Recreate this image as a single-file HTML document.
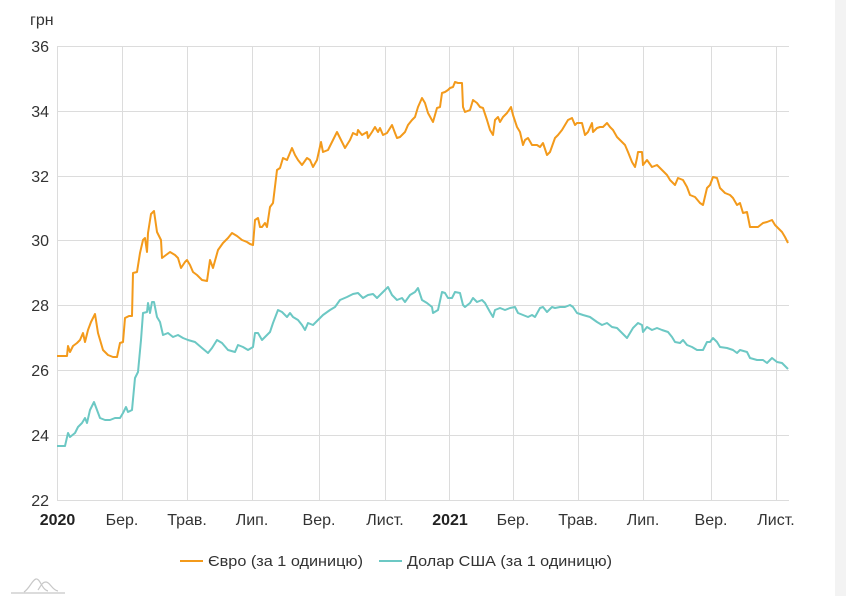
<!DOCTYPE html>
<html><head><meta charset="utf-8"><style>
html,body{margin:0;padding:0;background:#fff;}
body{width:846px;height:596px;overflow:hidden;position:relative;font-family:"Liberation Sans",sans-serif;}
svg{position:absolute;left:0;top:0;}
</style></head><body>
<svg width="846" height="596" viewBox="0 0 846 596" xmlns="http://www.w3.org/2000/svg">
<rect x="835" y="0" width="11" height="596" fill="#f3f3f3"/>
<g stroke="#dcdcdc" stroke-width="1" fill="none">
<line x1="57" y1="46.5" x2="789" y2="46.5"/>
<line x1="57" y1="111.5" x2="789" y2="111.5"/>
<line x1="57" y1="176.5" x2="789" y2="176.5"/>
<line x1="57" y1="240.5" x2="789" y2="240.5"/>
<line x1="57" y1="305.5" x2="789" y2="305.5"/>
<line x1="57" y1="370.5" x2="789" y2="370.5"/>
<line x1="57" y1="435.5" x2="789" y2="435.5"/>
<line x1="57" y1="500.5" x2="789" y2="500.5"/>
<line x1="57.5" y1="46" x2="57.5" y2="500"/>
<line x1="122.5" y1="46" x2="122.5" y2="500"/>
<line x1="187.5" y1="46" x2="187.5" y2="500"/>
<line x1="252.5" y1="46" x2="252.5" y2="500"/>
<line x1="319.5" y1="46" x2="319.5" y2="500"/>
<line x1="385.5" y1="46" x2="385.5" y2="500"/>
<line x1="449.5" y1="46" x2="449.5" y2="500"/>
<line x1="513.5" y1="46" x2="513.5" y2="500"/>
<line x1="578.5" y1="46" x2="578.5" y2="500"/>
<line x1="643.5" y1="46" x2="643.5" y2="500"/>
<line x1="711.5" y1="46" x2="711.5" y2="500"/>
<line x1="776.5" y1="46" x2="776.5" y2="500"/>
</g>
<g font-size="16" fill="#333" text-anchor="end">
<text x="49" y="52">36</text>
<text x="49" y="117">34</text>
<text x="49" y="182">32</text>
<text x="49" y="246">30</text>
<text x="49" y="311">28</text>
<text x="49" y="376">26</text>
<text x="49" y="441">24</text>
<text x="49" y="506">22</text>
</g>
<text x="30" y="25" font-size="16" fill="#333">грн</text>
<g font-size="16" fill="#333" text-anchor="middle">
<text x="57.5" y="525" font-weight="bold" fill="#222">2020</text>
<text x="122" y="525">Бер.</text>
<text x="187" y="525">Трав.</text>
<text x="252" y="525">Лип.</text>
<text x="319" y="525">Вер.</text>
<text x="385" y="525">Лист.</text>
<text x="450" y="525" font-weight="bold" fill="#222">2021</text>
<text x="513" y="525">Бер.</text>
<text x="578" y="525">Трав.</text>
<text x="643" y="525">Лип.</text>
<text x="711" y="525">Вер.</text>
<text x="776" y="525">Лист.</text>
</g>
<polyline fill="none" stroke="#6cc8c4" stroke-width="2" stroke-linejoin="round" points="57,446 65,446 68,433 70,437 75,433 78,427 82,423 85,418 87,423 90,410 94,402 97,410 100,418 105,420 110,420 115,418 120,418 123,413 126,407 128,412 132,410 135,378 138,372 141,340 143,313 147,312 148,303 150,313 152,302 154,302 157,317 160,322 163,335 168,333 173,337 178,335 183,338 188,340 195,342 202,348 208,353 212,348 217,340 222,343 228,350 235,352 238,345 243,347 248,350 253,347 255,333 258,333 262,340 265,337 270,332 273,323 278,310 282,312 287,317 290,313 293,317 298,320 302,325 305,330 308,323 313,325 318,320 323,315 330,310 335,307 340,300 347,297 353,294 358,293 363,298 368,295 373,294 377,298 382,293 387,288 388,287 392,295 397,300 402,298 405,302 410,295 415,292 418,288 422,300 427,303 432,307 433,313 438,310 442,292 445,293 448,298 452,298 455,292 460,293 463,305 465,307 470,303 473,298 477,302 482,300 485,303 490,312 493,317 495,310 500,308 505,310 510,308 515,307 518,313 523,315 528,317 532,315 535,317 540,308 543,307 547,312 552,307 555,308 560,307 565,307 570,305 573,307 577,313 583,315 590,317 597,322 602,325 607,323 612,327 617,328 622,333 627,338 630,333 633,328 638,323 642,325 643,332 647,327 652,330 657,328 662,330 668,332 672,337 675,342 680,343 683,340 687,345 692,347 697,350 703,350 707,342 710,342 713,338 717,342 720,347 727,348 733,350 737,353 740,350 747,352 750,358 757,360 763,360 767,363 772,358 777,362 782,363 787,368 788,369"/>
<polyline fill="none" stroke="#f39a1b" stroke-width="2" stroke-linejoin="round" points="57,356 67,356 68,346 70,352 73,346 77,343 80,340 83,333 85,342 88,330 91,322 95,314 98,333 103,350 108,355 113,357 117,357 120,343 123,342 125,318 129,316 132,316 133,273 137,272 140,253 143,240 145,238 147,252 148,233 151,214 154,211 156,225 157,232 161,240 162,258 166,255 170,252 175,255 178,258 181,268 185,262 187,260 190,265 193,272 197,275 202,280 207,281 210,260 213,268 218,250 223,243 228,238 232,233 237,236 242,240 247,242 250,244 253,245 255,220 258,218 260,227 262,227 265,223 267,227 270,207 273,203 277,170 280,168 283,158 287,160 292,148 295,155 298,160 302,165 307,158 310,160 313,167 317,160 321,142 323,152 328,150 333,140 337,132 340,138 345,148 350,140 353,133 357,135 358,130 362,135 367,132 368,138 372,132 375,127 378,132 380,128 383,135 387,133 392,125 395,133 397,138 400,137 405,132 408,125 412,120 415,117 418,107 422,98 425,103 428,113 433,122 437,108 440,107 442,93 445,92 448,90 450,88 453,87 455,82 458,83 462,83 463,107 465,112 470,110 473,100 477,103 480,107 483,108 487,120 490,130 493,135 495,120 498,117 500,122 503,117 507,113 511,107 513,115 517,127 520,132 523,145 525,140 528,138 532,145 537,145 540,147 543,143 547,155 550,152 555,138 558,135 562,130 565,125 568,120 572,118 575,125 577,123 582,123 585,135 588,132 592,123 593,132 597,128 600,127 603,127 607,123 610,127 613,130 617,137 620,140 625,145 628,152 632,162 635,167 637,158 638,152 642,152 643,165 647,160 652,167 657,165 662,170 667,175 670,180 675,185 678,178 683,180 687,187 690,195 695,197 700,203 703,205 707,188 710,185 713,177 717,178 720,188 725,193 730,195 733,198 737,205 740,203 743,213 747,212 750,227 753,227 758,227 763,223 767,222 772,220 775,225 778,228 782,232 785,237 788,243"/>
<line x1="180" y1="561" x2="203" y2="561" stroke="#f39a1b" stroke-width="2"/>
<text x="208" y="566" font-size="15" fill="#333" textLength="155" lengthAdjust="spacingAndGlyphs">Євро (за 1 одиницю)</text>
<line x1="379" y1="561" x2="402" y2="561" stroke="#6cc8c4" stroke-width="2"/>
<text x="407" y="566" font-size="15" fill="#333" textLength="205" lengthAdjust="spacingAndGlyphs">Долар США (за 1 одиницю)</text>
<g fill="none" stroke="#c8c8c8" stroke-width="1.2">
<line x1="11" y1="593" x2="65" y2="593"/>
<path d="M24,592 C30,588 32,580 36,579 C40,578 42,590 48,591"/>
<path d="M38,590 C41,586 42,582 46,582 C50,582 52,590 58,591"/>
</g>
</svg>
</body></html>
